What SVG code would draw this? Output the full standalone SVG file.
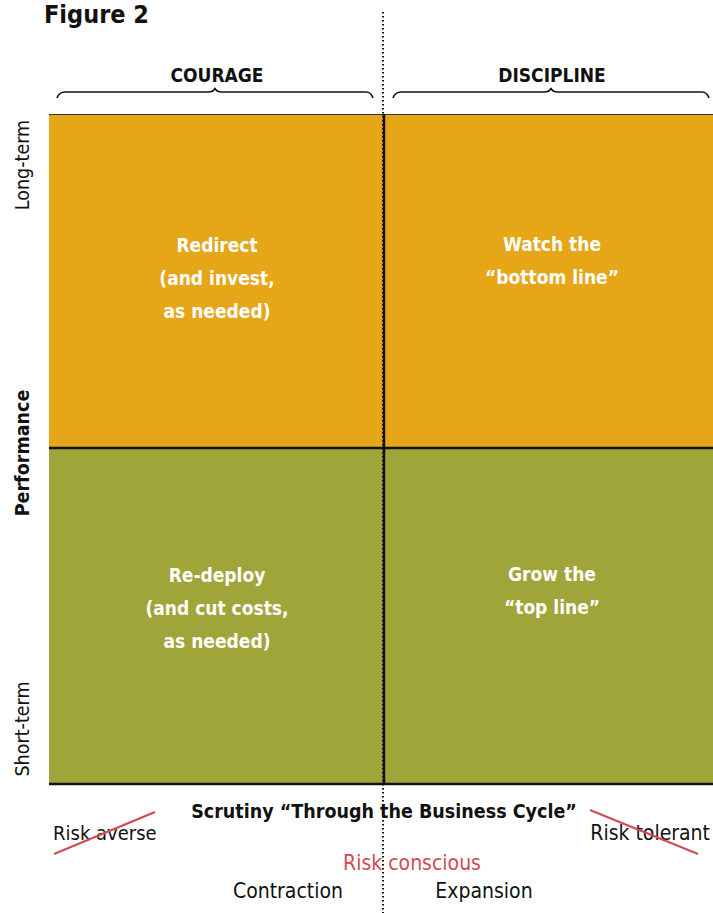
<svg xmlns="http://www.w3.org/2000/svg" width="713" height="913" viewBox="0 0 713 913">
<style>
text{font-family:"DejaVu Sans Condensed","Liberation Sans",sans-serif;}
.b{font-weight:bold;}
.q{fill:#fff;font-weight:bold;font-size:19px;text-anchor:middle;}
.lab{font-size:21px;fill:#111;}
.ylab{font-size:19.5px;fill:#111;}
.brace{fill:none;stroke:#111;stroke-width:1.6;}
.strike{stroke:#d14a55;stroke-width:2.2;}
</style>
<text x="44" y="23" class="b" font-size="25" fill="#111">Figure 2</text>
<g id="courage">
<text x="217" y="82" class="b" font-size="19" text-anchor="middle" fill="#111">COURAGE</text>
<path class="brace" d="M57,98 Q59,92 65,92 L208,92 Q214,92 215,88 Q216,92 222,92 L366,92 Q371,92 373,98"/>
</g>
<g id="discipline">
<text x="552" y="82" class="b" font-size="19" text-anchor="middle" fill="#111">DISCIPLINE</text>
<path class="brace" d="M393,98 Q395,92 401,92 L544,92 Q550,92 551,88 Q552,92 558,92 L702,92 Q707,92 709,98"/>
</g>
<g id="q-redirect"><rect x="49" y="114" width="335" height="334" fill="#e5a618"/>
<text class="q"><tspan x="217" y="252">Redirect</tspan><tspan x="217" y="285">(and invest,</tspan><tspan x="217" y="318">as needed)</tspan></text></g>
<g id="q-watch"><rect x="384" y="114" width="329" height="334" fill="#e5a618"/>
<text class="q"><tspan x="552" y="251">Watch the</tspan><tspan x="552" y="284">“bottom line”</tspan></text></g>
<g id="q-redeploy"><rect x="49" y="448" width="335" height="336" fill="#a0a53a"/>
<text class="q"><tspan x="217" y="582">Re-deploy</tspan><tspan x="217" y="615">(and cut costs,</tspan><tspan x="217" y="648">as needed)</tspan></text></g>
<g id="q-grow"><rect x="384" y="448" width="329" height="336" fill="#a0a53a"/>
<text class="q"><tspan x="552" y="581">Grow the</tspan><tspan x="552" y="614">“top line”</tspan></text></g>
<g id="connectors">
<line x1="49" y1="114.5" x2="713" y2="114.5" stroke="#333" stroke-width="1"/>
<line x1="49" y1="448" x2="713" y2="448" stroke="#111" stroke-width="2.5"/>
<line x1="49" y1="784" x2="713" y2="784" stroke="#111" stroke-width="2.5"/>
<line x1="384" y1="114" x2="384" y2="785" stroke="#111" stroke-width="2.5"/>
<line x1="383" y1="12" x2="383" y2="913" stroke="#111" stroke-width="2" stroke-dasharray="1.5 2.5"/>
</g>
<g id="axis-y">
<text transform="translate(29,165) rotate(-90)" class="ylab" text-anchor="middle">Long-term</text>
<text transform="translate(29,453) rotate(-90)" class="ylab b" text-anchor="middle">Performance</text>
<text transform="translate(29,729) rotate(-90)" class="ylab" text-anchor="middle">Short-term</text>
</g>
<g id="axis-x">
<text x="384" y="818" class="b" font-size="19.5" text-anchor="middle" fill="#111">Scrutiny “Through the Business Cycle”</text>
<text x="53" y="840" class="lab" style="font-size:20px">Risk averse</text>
<line class="strike" x1="54" y1="854" x2="155" y2="812"/>
<text x="710" y="840" class="lab" text-anchor="end">Risk tolerant</text>
<line class="strike" x1="590" y1="810" x2="698" y2="854"/>
<text x="412" y="870" class="lab" style="fill:#d14a55" text-anchor="middle">Risk conscious</text>
<text x="288" y="898" class="lab" text-anchor="middle">Contraction</text>
<text x="484" y="898" class="lab" text-anchor="middle">Expansion</text>
</g>
</svg>
